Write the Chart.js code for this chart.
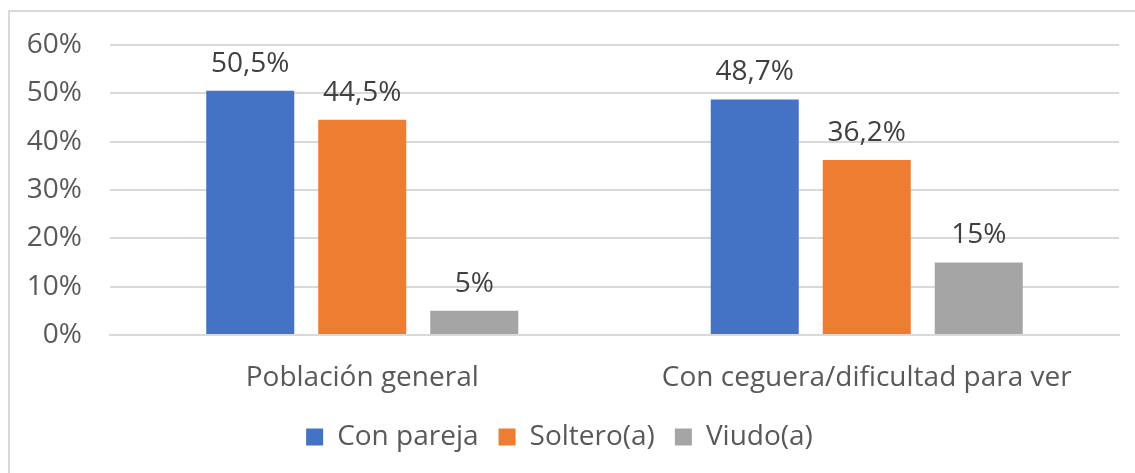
<!DOCTYPE html>
<html>
<head>
<meta charset="utf-8">
<script src="https://cdn.jsdelivr.net/npm/chart.js@4"></script>
<style>
    html, body { margin: 0; padding: 0; background: #fff; }
    #frame {
        position: absolute; left: 8px; top: 10px; width: 1140px; height: 470px;
        border-left: 2px solid #d9d9d9; border-top: 2px solid #d9d9d9;
    }
    #wrap { position: absolute; left: 0; top: 0; width: 1135px; height: 473px; }
</style>
</head>
<body>
<div id="frame"></div>
<div id="wrap"><canvas id="estadoCivilChart"></canvas></div>
<script>
const categories = ['Población general', 'Con ceguera/dificultad para ver'];
const conPareja = [50.5, 48.7];
const soltero = [44.5, 36.2];
const viudo = [5, 15];
const yTicks = [0, 10, 20, 30, 40, 50, 60];

const FONT = '"Open Sans", "Liberation Sans", sans-serif';
const TEXT_SIZE = 28;

const formatPct = (value) => {
    if (Number.isInteger(value)) {
        return `${value}%`;
    }
    return `${value.toFixed(1).replace('.', ',')}%`;
};

// draws the value above each bar
const barValueLabels = {
    id: 'barValueLabels',
    afterDatasetsDraw(chart) {
        const { ctx } = chart;
        ctx.save();
        ctx.font = `${TEXT_SIZE}px ${FONT}`;
        ctx.fillStyle = '#404040';
        ctx.textAlign = 'center';
        ctx.textBaseline = 'alphabetic';
        chart.data.datasets.forEach((dataset, i) => {
            const meta = chart.getDatasetMeta(i);
            meta.data.forEach((bar, j) => {
                ctx.fillText(formatPct(dataset.data[j]), bar.x, bar.y - 19);
            });
        });
        ctx.restore();
    }
};

const ctx = document.getElementById('estadoCivilChart').getContext('2d');

new Chart(ctx, {
    type: 'bar',
    data: {
        labels: categories,
        datasets: [
            { label: 'Con pareja', data: conPareja, backgroundColor: '#4472c4' },
            { label: 'Soltero(a)', data: soltero, backgroundColor: '#ed7d31' },
            { label: 'Viudo(a)', data: viudo, backgroundColor: '#a5a5a5' }
        ]
    },
    options: {
        responsive: true,
        maintainAspectRatio: false,
        animation: false,
        layout: {
            padding: { left: 0, right: 16, top: 34, bottom: 12 }
        },
        datasets: {
            bar: {
                categoryPercentage: 0.666,
                barPercentage: 0.786
            }
        },
        scales: {
            x: {
                grid: { display: false },
                border: { display: true, color: '#d9d9d9', width: 2 },
                afterFit: (scale) => {
                    scale.height = 68;
                },
                ticks: {
                    color: '#595959',
                    font: { family: FONT, size: TEXT_SIZE },
                    padding: 18
                }
            },
            y: {
                min: 0,
                max: 60,
                afterBuildTicks: (scale) => {
                    scale.ticks = yTicks.map((value) => ({ value }));
                },
                afterFit: (scale) => {
                    scale.width = 110;
                },
                grid: { color: '#d9d9d9', lineWidth: 2, drawTicks: false },
                border: { display: false },
                ticks: {
                    color: '#595959',
                    font: { family: FONT, size: TEXT_SIZE },
                    padding: 28,
                    callback: (value) => `${value}%`
                }
            }
        },
        plugins: {
            legend: {
                position: 'bottom',
                labels: {
                    color: '#595959',
                    font: { family: FONT, size: TEXT_SIZE },
                    boxWidth: 17,
                    boxHeight: 17,
                    padding: 20
                }
            },
            tooltip: { enabled: false }
        }
    },
    plugins: [barValueLabels]
});
</script>
</body>
</html>
